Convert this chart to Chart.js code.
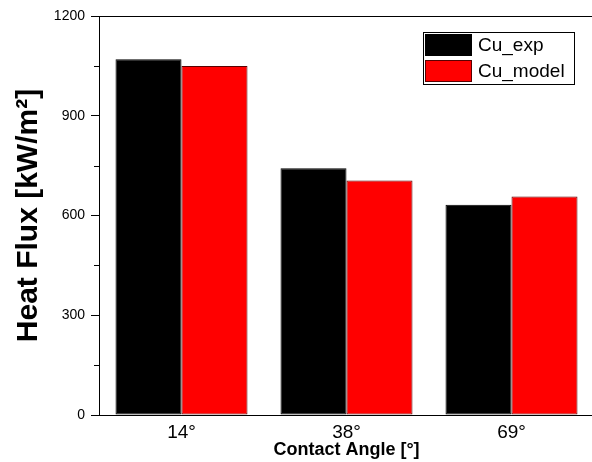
<!DOCTYPE html>
<html>
<head>
<meta charset="utf-8">
<script src="https://cdn.jsdelivr.net/npm/chart.js@4.4.1/dist/chart.umd.min.js"></script>
<style>
  html, body { margin: 0; padding: 0; background: #fff; overflow: hidden; }
  #wrap { width: 596px; height: 462px; position: relative; }
</style>
</head>
<body>
<div id="wrap"><canvas id="c" width="596" height="462"></canvas></div>
<script>
// ---- data ----
const categories = ['14°', '38°', '69°'];
const seriesNames = ['Cu_exp', 'Cu_model'];
const cuExp = [1070, 742, 632];
const cuModel = [1050, 705, 657];
const yTicks = [0, 300, 600, 900, 1200];
const yMinorTicks = [150, 450, 750, 1050];

const FONT = "'Liberation Sans', Arial, Helvetica, sans-serif";
Chart.defaults.font.family = FONT;
Chart.defaults.color = '#000';

const fillColors = ['#000000', '#ff0000'];
const edgeColors = ['#000000', '#5a0000'];

const framePlugin = {
  id: 'frame',
  afterDraw(chart) {
    const ctx = chart.ctx;
    const ca = chart.chartArea;
    const ys = chart.scales.y;
    ctx.save();
    ctx.strokeStyle = '#000';
    ctx.lineWidth = 1;
    // top frame line
    ctx.beginPath();
    ctx.moveTo(ca.left, Math.round(ca.top) + 0.5);
    ctx.lineTo(ca.right, Math.round(ca.top) + 0.5);
    ctx.stroke();
    // minor ticks
    yMinorTicks.forEach(v => {
      const y = Math.round(ys.getPixelForValue(v)) + 0.5;
      ctx.beginPath();
      ctx.moveTo(ca.left - 5, y);
      ctx.lineTo(ca.left, y);
      ctx.stroke();
    });
    // legend
    const boxR = ca.right - 20, boxL = boxR - 151, boxT = 32, boxB = 84;
    ctx.strokeStyle = '#000';
    ctx.strokeRect(boxL + 0.5, boxT + 0.5, boxR - boxL, boxB - boxT);
    chart.data.datasets.forEach((ds, i) => {
      const sy = boxT + 2 + i * 26;
      ctx.fillStyle = ds.backgroundColor;
      ctx.fillRect(boxL + 2, sy, 47, 22);
      ctx.strokeStyle = ds.borderColor;
      ctx.strokeRect(boxL + 2.5, sy + 0.5, 46, 21);
      ctx.fillStyle = '#000';
      ctx.font = '19px ' + FONT;
      ctx.textAlign = 'left';
      ctx.textBaseline = 'middle';
      ctx.fillText(ds.label, boxL + 55, sy + 12);
    });
    ctx.restore();
  }
};

new Chart(document.getElementById('c'), {
  type: 'bar',
  data: {
    labels: categories,
    datasets: [
      { label: seriesNames[0], data: cuExp, backgroundColor: fillColors[0], borderColor: edgeColors[0], borderWidth: 1, borderSkipped: false },
      { label: seriesNames[1], data: cuModel, backgroundColor: fillColors[1], borderColor: edgeColors[1], borderWidth: 1, borderSkipped: false }
    ]
  },
  options: {
    responsive: false,
    animation: false,
    events: [],
    layout: { padding: { left: 0, right: 2, top: 16, bottom: 0 } },
    datasets: { bar: { categoryPercentage: 0.8, barPercentage: 1.0 } },
    plugins: { legend: { display: false }, tooltip: { enabled: false } },
    scales: {
      x: {
        grid: { display: false, drawTicks: false, tickLength: 0 },
        border: { display: true, color: '#000', width: 1 },
        ticks: { font: { size: 19 }, color: '#000', padding: 6 },
        title: { display: true, text: 'Contact Angle [°]', font: { size: 18, weight: 'bold' }, color: '#000', padding: { top: 0, bottom: 1 } },
        afterFit(s) { s.height = 47; }
      },
      y: {
        min: 0, max: 1200,
        afterBuildTicks(s) { s.ticks = yTicks.map(v => ({ value: v })); },
        grid: { drawOnChartArea: false, drawTicks: true, tickLength: 8, tickColor: '#000', tickWidth: 1 },
        border: { display: true, color: '#000', width: 1 },
        ticks: { font: { size: 14 }, color: '#000', padding: 6, callback: v => String(v) },
        title: { display: true, text: 'Heat Flux [kW/m²]', font: { size: 30, weight: 'bold' }, color: '#000', padding: { top: 11, bottom: 0 } },
        afterFit(s) { s.width = 99; }
      }
    }
  },
  plugins: [framePlugin]
});
</script>
</body>
</html>
